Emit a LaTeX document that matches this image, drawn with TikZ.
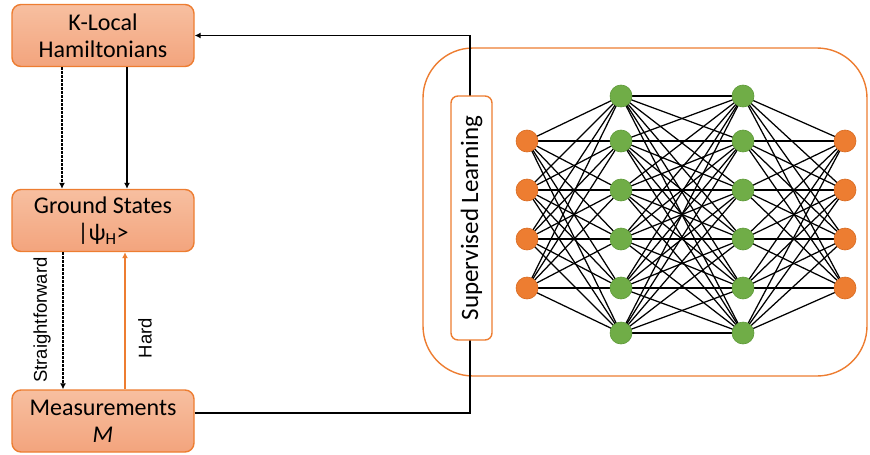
\documentclass[tikz,border=0pt]{standalone}
\usepackage{fontspec}
\setmainfont{Carlito}
\newfontfamily\arialf{Liberation Sans}
\usetikzlibrary{arrows.meta}
\pgfdeclarelayer{background}
\pgfsetlayers{background,main}
\definecolor{org}{HTML}{ED7D31}
\definecolor{orgdark}{HTML}{D86A20}
\definecolor{grn}{HTML}{70AD47}
\definecolor{grndark}{HTML}{5E9A39}
\definecolor{boxtop}{HTML}{F7BFA0}
\definecolor{boxbot}{HTML}{F3A47D}
\tikzset{
  flowbox/.style={draw=org, line width=1.4pt, rounded corners=9pt, top color=boxtop, bottom color=boxbot,
    minimum width=182pt, minimum height=62pt, align=center, font=\fontsize{24}{27}\selectfont, inner sep=0pt},
  arr/.style={-{Latex[length=6pt,width=6pt]}, line width=1.1pt, black},
  dasharr/.style={arr, dash pattern=on 2.5pt off 1.5pt},
  hardarr/.style={-{Latex[length=6pt,width=6pt]}, line width=1.1pt, org},
  sidelabel/.style={rotate=90, font=\arialf\fontsize{18.5}{20}\selectfont, inner sep=0pt},
  inneuron/.style={circle, fill=org, draw=orgdark, line width=0.6pt, minimum size=22pt, inner sep=0pt},
  hidneuron/.style={circle, fill=grn, draw=grndark, line width=0.6pt, minimum size=22pt, inner sep=0pt},
  wire/.style={line width=1.25pt, black},
}
\begin{document}
\begin{tikzpicture}[x=1pt,y=-1pt]
\useasboundingbox (0,0) rectangle (870,455);
% left boxes
\node[flowbox] (kl) at (103,35.5) {K-Local\\Hamiltonians};
\node[flowbox] (gs) at (103,220.5) {Ground States\\|ψ\textsubscript{H}>};
\node[flowbox] (ms) at (103,421) {Measurements\\\textit{M}};
% vertical connectors
\draw[dasharr] ([xshift=-41pt]kl.south) -- ([xshift=-41pt]gs.north);
\draw[arr] ([xshift=24pt]kl.south) -- ([xshift=24pt]gs.north);
\draw[dasharr] ([xshift=-40pt]gs.south) -- ([xshift=-40pt]ms.north);
\draw[hardarr] ([xshift=22pt]ms.north) -- ([xshift=22pt]gs.south);
\node[sidelabel] (lsf) at (42,320) {Straightforward};
\node[sidelabel] (lhard) at (145,338) {Hard};
% big frame
\draw[org, line width=1.4pt, rounded corners=50pt] (423,48) rectangle (867,376);
% feedback loop
\coordinate (cb) at (470,413);
\coordinate (ct) at (470,35.5);
\draw[arr] (ms.east |- cb) -- (cb) -- (ct) -- (kl.east);
% supervised learning box
\node[draw=org, line width=1.4pt, fill=white, rounded corners=7pt, rotate=90,
  minimum width=244pt, minimum height=41pt, inner sep=0pt,
  font=\fontsize{25}{27}\selectfont] (sl) at (471.5,218) {Supervised Learning};
% network
\foreach \i/\y in {1/141,2/190,3/239,4/288}{
  \node[inneuron] (i\i) at (527,\y) {};
  \node[inneuron] (o\i) at (845,\y) {};
}
\foreach \i/\y in {1/96,2/141,3/190,4/239,5/288,6/333}{
  \node[hidneuron] (a\i) at (621,\y) {};
  \node[hidneuron] (b\i) at (743,\y) {};
}
\begin{pgfonlayer}{background}
\foreach \i in {1,...,4}{
  \foreach \j in {1,...,6}{
    \draw[wire] (i\i.center) -- (a\j.center);
    \draw[wire] (b\j.center) -- (o\i.center);
  }
}
\foreach \i in {1,...,6}{
  \foreach \j in {1,...,6}{
    \draw[wire] (a\i.center) -- (b\j.center);
  }
}
\end{pgfonlayer}
\end{tikzpicture}
\end{document}
